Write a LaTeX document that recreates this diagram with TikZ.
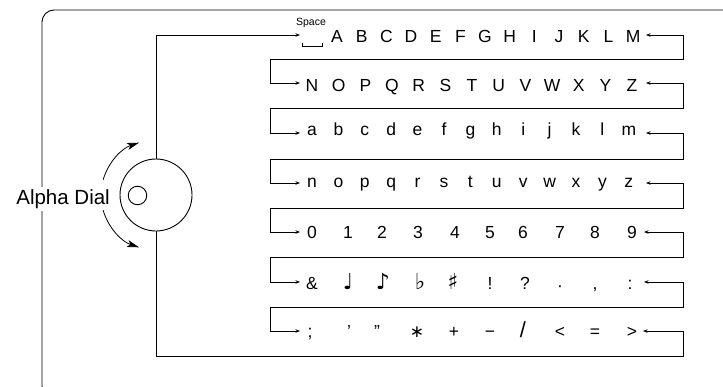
\documentclass[tikz,border=0pt]{standalone}
\usepackage{fontspec}
\setmainfont{Liberation Sans}
\newfontfamily\symfont{DejaVu Sans}
\newcommand\bigsym[1]{{\symfont\fontsize{22}{22}\selectfont #1}}
\newcommand\midsym[1]{{\symfont\fontsize{17}{17}\selectfont #1}}
\usetikzlibrary{arrows.meta,calc}
\begin{document}
\begin{tikzpicture}[x=1pt,y=-1pt,
  frame/.style={line width=0.9pt},
  conn/.style={line width=0.7pt},
  tip/.tip={Stealth[length=4.5pt,width=3.5pt]},
  bigtip/.tip={Stealth[length=12pt,width=7pt,inset=3pt]},
  ch/.style={anchor=base,inner sep=0pt,font=\fontsize{17.5}{17}\selectfont},
  dialc/.style={circle,draw,line width=0.9pt,inner sep=0pt}]
\useasboundingbox (0,0) rectangle (723,386);
% outer frame
\draw[frame,rounded corners=12pt] (724,10) -- (42,10) -- (42,398) -- (120,398);
% label
\node[fill=white,inner sep=2pt,anchor=east,font=\fontsize{20.5}{20}\selectfont] (label) at (112,199) {Alpha Dial};
% dial
\node[dialc,minimum size=72pt] (dial) at (156,195) {};
\node[dialc,minimum size=18.5pt] (knob) at (137.5,195.5) {};
% rotation arrows
\draw[line width=0.8pt,-{bigtip}] (dial.center) ++(164:55pt) arc[start angle=164,end angle=108,radius=55pt];
\draw[line width=0.8pt,-{bigtip}] (dial.center) ++(196:55pt) arc[start angle=196,end angle=252,radius=55pt];
% Space
\node[anchor=base,inner sep=0pt,font=\fontsize{10.5}{10}\selectfont] (space) at (311,25) {Space};
\draw[line width=0.7pt] (302,42.5) -- (302,46.5) -- (322,46.5) -- (322,42.5);
% rows
\foreach \c [count=\i from 0] in {A,B,C,D,E,F,G,H,I,J,K,L,M}
  \node[ch] (r1-\i) at ({337+\i*24.67},42) {\c};
\foreach \c [count=\i from 0] in {N,O,P,Q,R,S,T,U,V,W,X,Y,Z}
  \node[ch] (r2-\i) at ({312+\i*26.67},91.5) {\c};
\foreach \c [count=\i from 0] in {a,b,c,d,e,f,g,h,i,j,k,l,m}
  \node[ch] (r3-\i) at ({312+\i*26.4},135) {\c};
\foreach \c [count=\i from 0] in {n,o,p,q,r,s,t,u,v,w,x,y,z}
  \node[ch] (r4-\i) at ({312+\i*26.4},187) {\c};
\foreach \c/\x [count=\i from 0] in {0/312,1/348,2/382,3/418,4/455,5/490,6/523,7/560,8/595,9/632}
  \node[ch] (r5-\i) at (\x,238) {\c};
\foreach \c/\x [count=\i from 0] in {\&/312,{\bigsym{♩}}/348,{\bigsym{♪}}/383,{\bigsym{♭}}/420,{\bigsym{♯}}/453,!/490,?/525,{\raisebox{-2pt}{·}}/560,{,}/595,:/630}
  \node[ch] (r6-\i) at (\x,289) {\c};
\foreach \c/\x [count=\i from 0] in {;/310,’/349,”/377,{\midsym{∗}}/417,+/454,−/490,{\scalebox{1.25}{/}}/523,</560,=/595,>/632}
  \node[ch] (r7-\i) at (\x,337) {\c};
% arrow end coordinates
\coordinate (in1) at (300,35);
\coordinate (in2) at (300,83);
\coordinate (in3) at (300,133);
\coordinate (in4) at (300,183);
\coordinate (in5) at (300,232);
\coordinate (in6) at (300,282);
\coordinate (in7) at (300,331);
\coordinate (out1) at (646,35);
\coordinate (out2) at (646,83);
\coordinate (out3) at (646,133);
\coordinate (out4) at (646,183);
\coordinate (out5) at (644,232);
\coordinate (out6) at (644,282);
\coordinate (out7) at (643,331);
% connectors
\draw[conn,-{tip}] (dial.north) |- (in1);
\draw[conn,{tip}-{tip}] (out1) -| (683,59) -| (270,83) -- (in2);
\draw[conn,{tip}-{tip}] (out2) -| (683,108) -| (270,133) -- (in3);
\draw[conn,{tip}-{tip}] (out3) -| (683,159) -| (270,183) -- (in4);
\draw[conn,{tip}-{tip}] (out4) -| (683,208) -| (270,232) -- (in5);
\draw[conn,{tip}-{tip}] (out5) -| (683,257) -| (270,282) -- (in6);
\draw[conn,{tip}-{tip}] (out6) -| (683,307) -| (270,331) -- (in7);
\draw[conn,{tip}-] (out7) -| (683,356) -| (dial.south);
\end{tikzpicture}
\end{document}
